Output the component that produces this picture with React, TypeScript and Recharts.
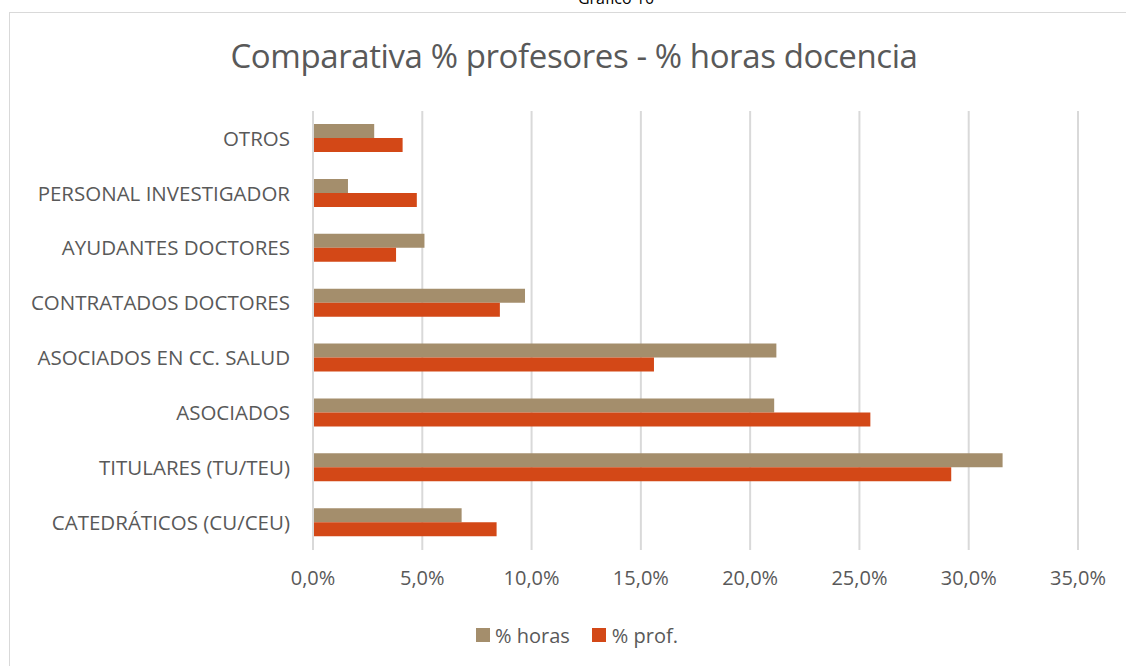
import React from "react";
import { BarChart, Bar, XAxis, YAxis, CartesianGrid, Legend } from "recharts";

const categories = [
  "OTROS",
  "PERSONAL INVESTIGADOR",
  "AYUDANTES DOCTORES",
  "CONTRATADOS DOCTORES",
  "ASOCIADOS EN CC. SALUD",
  "ASOCIADOS",
  "TITULARES (TU/TEU)",
  "CATEDRÁTICOS (CU/CEU)",
];
const horas = [2.8, 1.6, 5.1, 9.7, 21.2, 21.1, 31.55, 6.8];
const prof = [4.1, 4.75, 3.8, 8.55, 15.6, 25.5, 29.2, 8.4];
const xTicks = [0, 5, 10, 15, 20, 25, 30, 35];

const data = categories.map((c, i) => ({ name: c, horas: horas[i], prof: prof[i] }));

const FONT = "'Open Sans', sans-serif";
const TEXT = "#595959";
const C_HORAS = "#A48E6C";
const C_PROF = "#D34817";

const fmt = (v: number) => v.toFixed(1).replace(".", ",") + "%";

const LegendContent = () => (
  <div style={{ display: "flex", justifyContent: "flex-start", alignItems: "center", height: 30, fontFamily: FONT, fontSize: 20, color: TEXT, whiteSpace: "nowrap" }}>
    <span style={{ display: "inline-block", width: 14, height: 14, background: C_HORAS, marginRight: 5 }} />
    <span style={{ marginRight: 22 }}>% horas</span>
    <span style={{ display: "inline-block", width: 14, height: 14, background: C_PROF, marginRight: 6 }} />
    <span>% prof.</span>
  </div>
);

export default function App() {
  return (
    <div style={{ position: "absolute", left: 0, top: 0, width: 1126, height: 666, overflow: "hidden", background: "#fff" }}>
      <div style={{ position: "absolute", left: 0, width: 1232, top: -13, textAlign: "center", fontFamily: FONT, fontSize: 16, color: "#000" }}>
        Gráfico 10
      </div>
      <div style={{ position: "absolute", left: 9, top: 12, width: 1130, height: 680, border: "1.5px solid #d9d9d9", boxSizing: "border-box" }} />
      <div style={{ position: "absolute", left: 10, width: 1128, top: 33, textAlign: "center", fontFamily: FONT, fontWeight: 400, fontSize: 33, color: TEXT, letterSpacing: -0.4 }}>
        Comparativa % profesores - % horas docencia
      </div>
      <div style={{ position: "absolute", left: 0, top: 0 }}>
        <BarChart
          width={1126}
          height={666}
          data={data}
          layout="vertical"
          margin={{ top: 111, right: 48, left: 0, bottom: 16 }}
          barGap={0}
          barSize={14}
        >
          <CartesianGrid horizontal={false} stroke="#d9d9d9" strokeWidth={2} />
          <XAxis
            type="number"
            domain={[0, 35]}
            ticks={xTicks}
            tickFormatter={fmt}
            axisLine={false}
            tickLine={false}
            tickSize={0}
            tickMargin={21}
            height={70}
            tick={{ fill: TEXT, fontSize: 20, fontFamily: FONT }}
            interval={0}
          />
          <YAxis
            type="category"
            dataKey="name"
            width={313}
            axisLine={{ stroke: "#d9d9d9", strokeWidth: 2 }}
            tickLine={false}
            tickSize={0}
            tickMargin={23}
            tick={{ fill: TEXT, fontSize: 20.5, fontFamily: FONT }}
            interval={0}
          />
          <Legend verticalAlign="bottom" content={<LegendContent />} wrapperStyle={{ left: 476, width: 220 }} />
          <Bar dataKey="horas" name="% horas" fill={C_HORAS} isAnimationActive={false} />
          <Bar dataKey="prof" name="% prof." fill={C_PROF} isAnimationActive={false} />
        </BarChart>
      </div>
    </div>
  );
}
